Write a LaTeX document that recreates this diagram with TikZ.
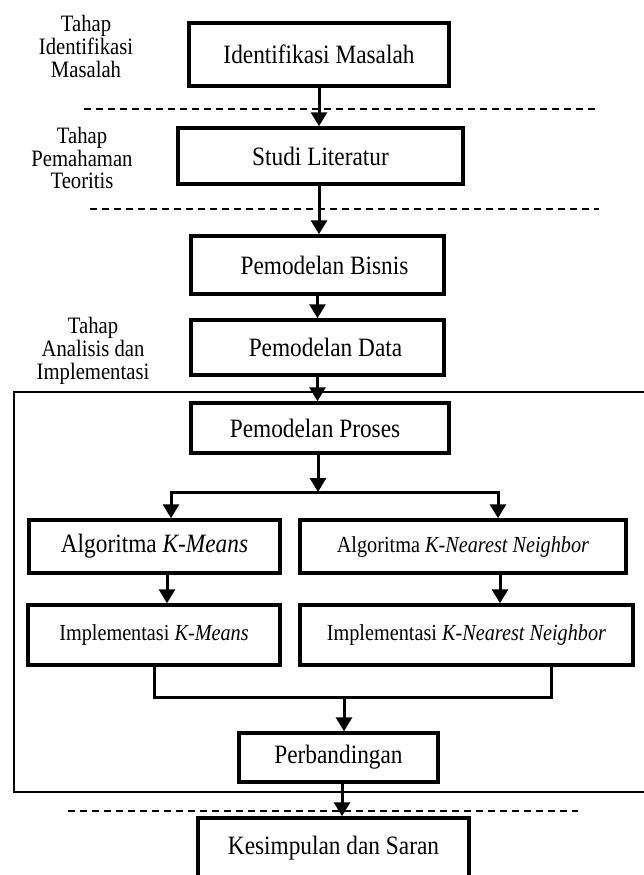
\documentclass[tikz,border=0pt]{standalone}
\usepackage{fontspec}
\usepackage{graphicx}
\setmainfont{Liberation Serif}
\usetikzlibrary{arrows.meta}
\newcommand{\cond}[1]{\scalebox{0.88}[1]{#1}}
\newcommand{\stk}[1]{\cond{\begin{tabular}{@{}c@{}}#1\end{tabular}}}
\begin{document}
\begin{tikzpicture}[x=1pt,y=-1pt,
  box/.style={draw, line width=3.5pt, rectangle, inner sep=0pt},
  big/.style={font=\fontsize{26.5}{30}\selectfont},
  small/.style={font=\fontsize{23}{26}\selectfont},
  lbl/.style={font=\fontsize{23.5}{22.5}\selectfont, inner sep=0pt},
  tip/.tip={Triangle[length=14pt,width=16pt]},
  arr/.style={line width=3pt, -tip},
  ln/.style={line width=3pt},
  sep/.style={line width=1.5pt, dash pattern=on 7pt off 5pt},
  frame/.style={line width=1.5pt}]
\useasboundingbox (0,0) rectangle (644,875);

% stage labels
\node[lbl] (l1) at (86,50) {\stk{Tahap\\Identifikasi\\Masalah}};
\node[lbl] (l2) at (82,161) {\stk{Tahap\\Pemahaman\\Teoritis}};
\node[lbl] (l3) at (93,352) {\stk{Tahap\\Analisis dan\\Implementasi}};

% separators and frame
\draw[sep] (84,109) -- (595,109);
\draw[sep] (90,209) -- (599,209);
\draw[sep] (68,811) -- (578,811);
\draw[frame] (646,392) -- (14,392) -- (14,792) -- (646,792);

% boxes
\node[box,big,minimum width=260pt,minimum height=63pt] (ident) at (319,54.5) {\cond{Identifikasi Masalah}};
\node[box,big,minimum width=285pt,minimum height=56pt] (studi) at (320.5,156) {\cond{Studi Literatur}};
\node[box,big,minimum width=253pt,minimum height=58pt] (bisnis) at (317.5,265) {\hspace*{14pt}\cond{Pemodelan Bisnis}};
\node[box,big,minimum width=253pt,minimum height=55pt] (data) at (317.5,347.5) {\hspace*{16pt}\cond{Pemodelan Data}};
\node[box,big,minimum width=258pt,minimum height=50pt] (proses) at (320,428) {\cond{Pemodelan Proses}\hspace*{10pt}};
\node[box,big,minimum width=251pt,minimum height=53pt] (algoL) at (154.5,546.5) {\cond{Algoritma \textit{K-Means}}};
\node[box,small,minimum width=326pt,minimum height=53pt] (algoR) at (463,546.5) {\cond{Algoritma \textit{K-Nearest Neighbor}}};
\node[box,small,minimum width=252pt,minimum height=60pt] (implL) at (154,635) {\cond{Implementasi \textit{K-Means}}};
\node[box,small,minimum width=333pt,minimum height=60pt] (implR) at (466.5,635) {\cond{Implementasi \textit{K-Nearest Neighbor}}};
\node[box,big,minimum width=199pt,minimum height=49pt] (perb) at (338.5,757.5) {\cond{Perbandingan}};
\node[box,big,minimum width=271pt,minimum height=60pt] (kes) at (333.5,848) {\cond{Kesimpulan dan Saran}};

% connectors
\draw[arr] (ident.south) -- (ident.south |- studi.north);
\draw[arr] (ident.south |- studi.south) -- (ident.south |- bisnis.north);
\draw[arr] (bisnis.south) -- (bisnis.south |- data.north);
\draw[arr] (data.south) -- (data.south |- proses.north);

\coordinate (fC) at (318,492);
\coordinate (fL) at (171,492);
\coordinate (fR) at (498,492);
\draw[arr] (fC |- proses.south) -- (fC);
\draw[line width=3pt, tip-tip] (fL |- algoL.north) -- (fL) -- (fR) -- (fR |- algoR.north);

\draw[arr] ([xshift=12.5pt]algoL.south) -- ([xshift=12.5pt]algoL.south |- implL.north);
\draw[arr] ([xshift=37pt]algoR.south) -- ([xshift=37pt]algoR.south |- implR.north);

\coordinate (mL) at (154,697);
\coordinate (mR) at (551,697);
\coordinate (mC) at (344,697);
\draw[ln] (implL.south) -- (mL) -- (mR) -- (mR |- implR.south);
\draw[arr] (mC) -- (mC |- perb.north);
\draw[arr] ([xshift=3.5pt]perb.south) -- ([xshift=3.5pt]perb.south |- kes.north);
\end{tikzpicture}
\end{document}
